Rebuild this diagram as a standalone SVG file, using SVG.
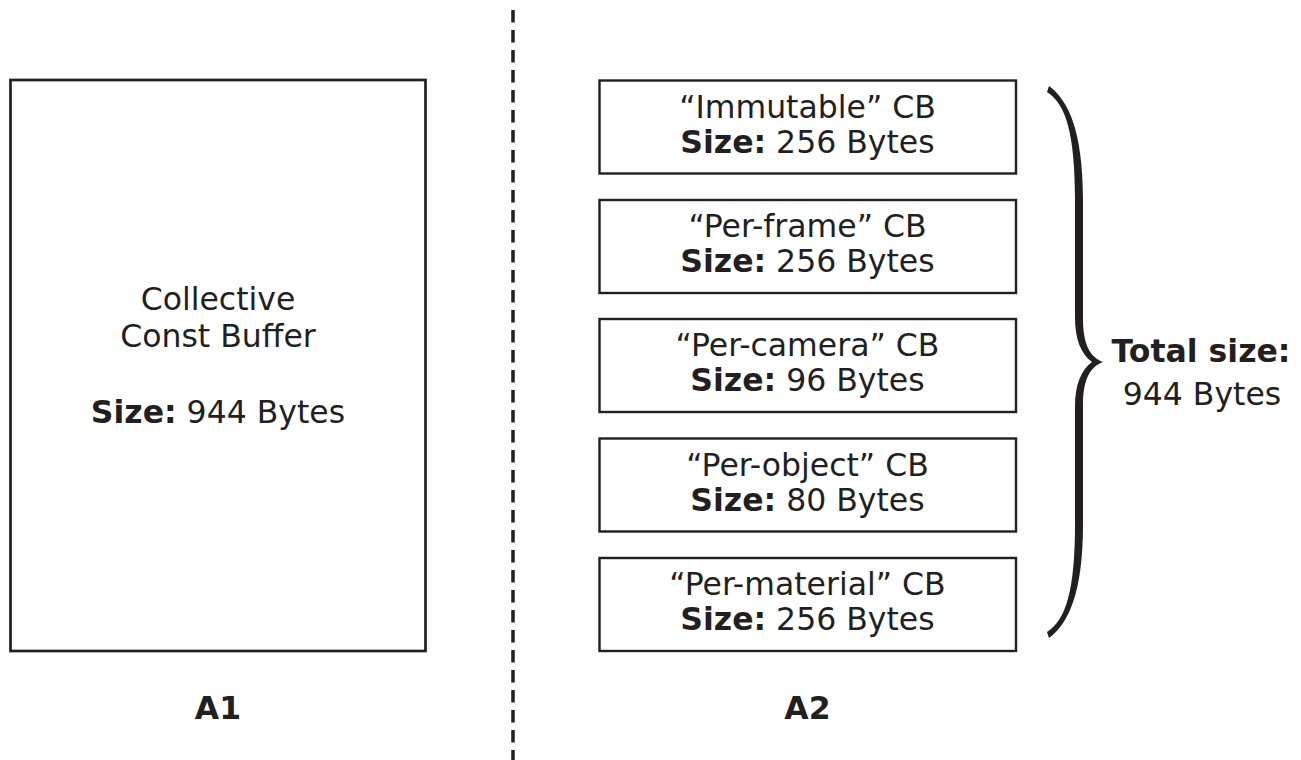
<svg xmlns="http://www.w3.org/2000/svg" width="1301" height="760" viewBox="0 0 1301 760">
  <style>
    text { font-family: "DejaVu Sans", Verdana, sans-serif; font-size: 31.5px; fill: #231f20; text-anchor: middle; }
    .b { font-weight: bold; }
    .box { fill: #ffffff; stroke: #231f20; stroke-width: 2.4; }
    .big { fill: #ffffff; stroke: #231f20; stroke-width: 2.7; }
    .divider { stroke: #231f20; stroke-width: 3.5; stroke-dasharray: 12.5 7.5; fill: none; }
  </style>
  <rect width="1301" height="760" fill="#ffffff"/>

  <!-- separator between the two layouts -->
  <g id="connectors">
    <line class="divider" x1="513" y1="10" x2="513" y2="760"/>
  </g>

  <!-- A1: one collective constant buffer -->
  <g id="collective-buffer">
    <rect class="big" x="10.5" y="80" width="415" height="571"/>
    <text x="218" y="310">Collective</text>
    <text x="218" y="347">Const Buffer</text>
    <text x="218" y="423"><tspan class="b">Size:</tspan> 944 Bytes</text>
  </g>

  <!-- A2: separate constant buffers -->
  <g id="cb-immutable">
    <rect class="box" x="599.5" y="80.5" width="416.5" height="93"/>
    <text x="807.5" y="117.5">“Immutable” CB</text>
    <text x="807.5" y="152.5"><tspan class="b">Size:</tspan> 256 Bytes</text>
  </g>
  <g id="cb-per-frame">
    <rect class="box" x="599.5" y="200" width="416.5" height="93"/>
    <text x="807.5" y="237">“Per-frame” CB</text>
    <text x="807.5" y="272"><tspan class="b">Size:</tspan> 256 Bytes</text>
  </g>
  <g id="cb-per-camera">
    <rect class="box" x="599.5" y="319" width="416.5" height="93"/>
    <text x="807.5" y="356">“Per-camera” CB</text>
    <text x="807.5" y="391"><tspan class="b">Size:</tspan> 96 Bytes</text>
  </g>
  <g id="cb-per-object">
    <rect class="box" x="599.5" y="438.5" width="416.5" height="93"/>
    <text x="807.5" y="475.5">“Per-object” CB</text>
    <text x="807.5" y="510.5"><tspan class="b">Size:</tspan> 80 Bytes</text>
  </g>
  <g id="cb-per-material">
    <rect class="box" x="599.5" y="558" width="416.5" height="93"/>
    <text x="807.5" y="595">“Per-material” CB</text>
    <text x="807.5" y="630"><tspan class="b">Size:</tspan> 256 Bytes</text>
  </g>

  <!-- curly brace grouping the five buffers -->
  <g id="brace">
    <path fill="#231f20" d="M1049,86 C1068,100 1083,130 1083,200 L1083,318 C1083,345 1090,357 1103,362 C1090,367 1083,379 1083,406 L1083,524 C1083,594 1068,624 1049,638 L1047,632 C1066,620 1075,590 1075,524 L1075,406 C1075,385 1081,370 1092,362 C1081,354 1075,339 1075,318 L1075,200 C1075,134 1066,104 1047,92 Z"/>
  </g>
  <g id="total">
    <text class="b" x="1201" y="362">Total size:</text>
    <text x="1202" y="405">944 Bytes</text>
  </g>

  <!-- layout captions -->
  <g id="label-a1">
    <text class="b" x="218" y="719">A1</text>
  </g>
  <g id="label-a2">
    <text class="b" x="807.5" y="719">A2</text>
  </g>
</svg>
